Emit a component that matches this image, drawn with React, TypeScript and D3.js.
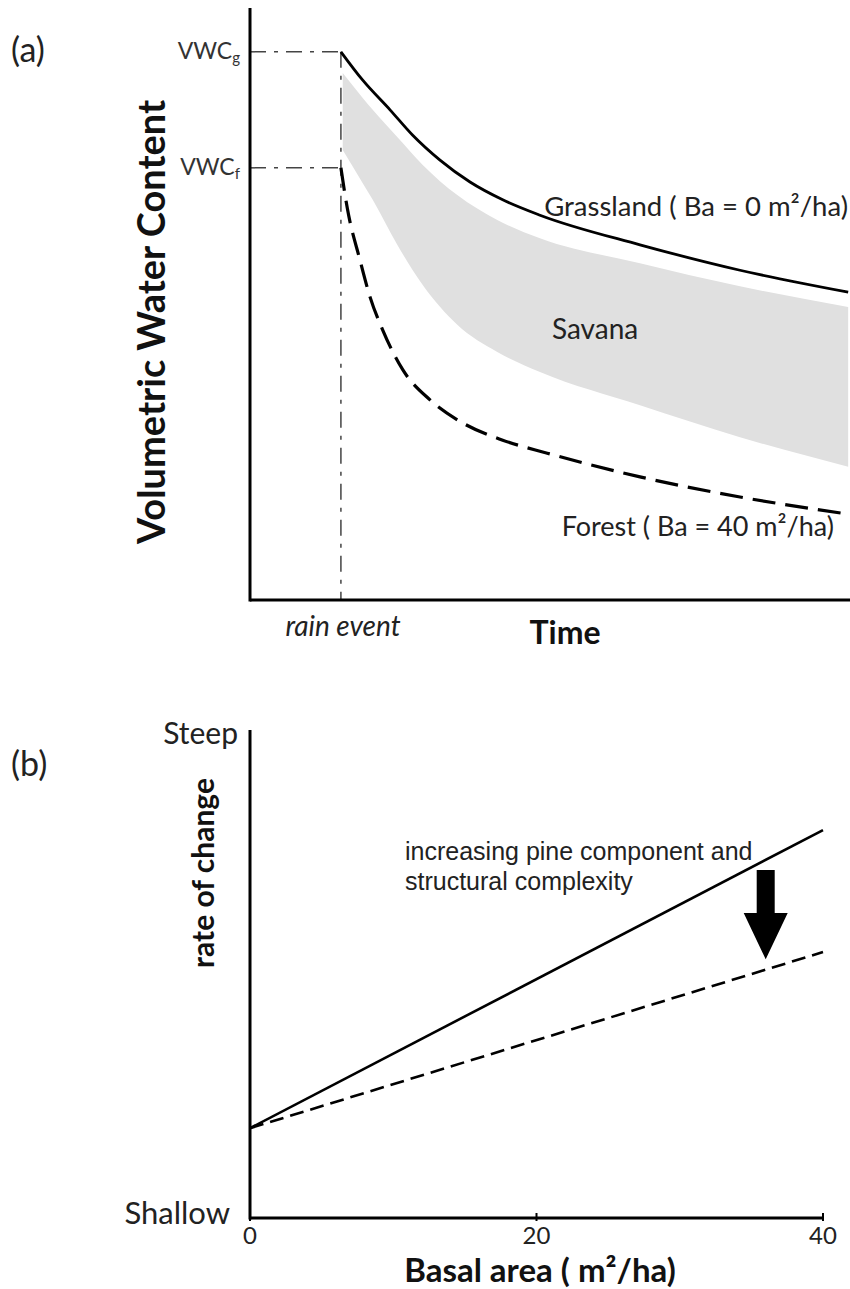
import * as d3 from 'd3';

const W = 850;
const H = 1289;

// ---- panel (a): soil moisture dry-down after a rain event ----
const rainEvent = 10;
const vwcG = 92.6;
const vwcF = 73.0;

const grassTime = [10, 12.4, 15.4, 17.9, 20.9, 24.2, 27.8, 31.9, 42.9, 53.9, 65.8];
const grassVwc = [92.6, 87.8, 82.8, 78.5, 74.3, 70.6, 67.6, 65.0, 60.0, 55.7, 52.0];

const savanaTime = [10.2, 12.4, 13.5, 16.2, 19.0, 22.8, 27.2, 31.9, 42.9, 53.9, 65.8];
const savanaUpper = [89.0, 84.8, 82.8, 78.2, 73.5, 68.4, 64.2, 61.1, 56.9, 53.0, 49.5];
const savanaLower = [76.0, 70.4, 67.6, 60.0, 53.2, 46.5, 41.9, 38.5, 32.9, 27.5, 22.5];

const forestTime = [10, 10.7, 12.1, 13.2, 14.6, 16.8, 19.8, 23.4, 27.8, 32.7, 42.9, 53.9, 65.8];
const forestVwc = [73.0, 66.2, 57.4, 51.2, 45.6, 38.9, 33.8, 29.9, 27.0, 24.8, 20.8, 17.4, 14.5];

// ---- panel (b): rate of change vs basal area ----
const basalTicks = [0, 20, 40];
const basalEnds = [0, 40];
const rateSolid = [1.84, 7.95];
const rateDashed = [1.84, 5.45];
const arrowBasal = 36;
const arrowTop = 7.13;
const arrowHead = 6.25;
const arrowTip = 5.3;

const sans = 'Lato, "Open Sans", sans-serif';
const arial = '"Liberation Sans", Arial, sans-serif';

export default function App() {
  const xA = d3.scaleLinear().domain([0, 66]).range([250, 850]);
  const yA = d3.scaleLinear().domain([0, 100]).range([600, 8]);

  const xB = d3.scaleLinear().domain([0, 40]).range([250, 823]);
  const yB = d3.scaleLinear().domain([0, 10]).range([1218, 730]);

  const line = d3
    .line<[number, number]>()
    .x((d) => xA(d[0]))
    .y((d) => yA(d[1]))
    .curve(d3.curveMonotoneX);

  const area = d3
    .area<number>()
    .x((_, i) => xA(savanaTime[i]))
    .y0((_, i) => yA(savanaLower[i]))
    .y1((_, i) => yA(savanaUpper[i]))
    .curve(d3.curveMonotoneX);

  const grassPath = line(grassTime.map((t, i) => [t, grassVwc[i]]));
  const forestPath = line(forestTime.map((t, i) => [t, forestVwc[i]]));
  const savanaPath = area(savanaTime);

  const lineB = d3
    .line<number>()
    .x((_, i) => xB(basalEnds[i]))
    .y((d) => yB(d));

  // arrow polygon
  const ax = xB(arrowBasal);
  const arrow = d3.path();
  arrow.moveTo(ax - 9, yB(arrowTop));
  arrow.lineTo(ax + 9, yB(arrowTop));
  arrow.lineTo(ax + 9, yB(arrowHead));
  arrow.lineTo(ax + 22, yB(arrowHead));
  arrow.lineTo(ax, yB(arrowTip));
  arrow.lineTo(ax - 22, yB(arrowHead));
  arrow.lineTo(ax - 9, yB(arrowHead));
  arrow.closePath();

  const dashDot = '16,8,4,8';

  return (
    <svg
      width={W}
      height={H}
      style={{ position: 'absolute', left: 0, top: 0, background: '#fff' }}
    >
      {/* ===== panel (a) ===== */}
      <text x={11} y={62} fontFamily={sans} fontSize={34} fill="#222">(a)</text>

      <path d={savanaPath ?? ''} fill="#e0e0e0" />

      {/* guide lines */}
      <line x1={xA(0)} x2={xA(rainEvent)} y1={yA(vwcG)} y2={yA(vwcG)} stroke="#444" strokeWidth={1.5} strokeDasharray={dashDot} />
      <line x1={xA(0)} x2={xA(rainEvent)} y1={yA(vwcF)} y2={yA(vwcF)} stroke="#444" strokeWidth={1.5} strokeDasharray={dashDot} />
      <line x1={xA(rainEvent)} x2={xA(rainEvent)} y1={yA(vwcG)} y2={yA(0)} stroke="#444" strokeWidth={1.5} strokeDasharray={dashDot} />

      <path d={grassPath ?? ''} fill="none" stroke="#000" strokeWidth={2.8} />
      <path d={forestPath ?? ''} fill="none" stroke="#000" strokeWidth={3.2} strokeDasharray="23,10" />

      {/* axes */}
      <line x1={xA(0)} x2={xA(0)} y1={yA(100)} y2={yA(0) + 1.5} stroke="#000" strokeWidth={3} />
      <line x1={xA(0)} x2={W} y1={yA(0)} y2={yA(0)} stroke="#000" strokeWidth={3} />

      <text x={xA(0) - 10} y={yA(vwcG) + 7} textAnchor="end" fontFamily={sans} fontSize={23} fill="#333">
        VWC<tspan fontSize={15} dy={4}>g</tspan>
      </text>
      <text x={xA(0) - 10} y={yA(vwcF) + 7} textAnchor="end" fontFamily={sans} fontSize={23} fill="#333">
        VWC<tspan fontSize={15} dy={4}>f</tspan>
      </text>

      <text
        transform={`translate(165, 322) rotate(-90)`}
        textAnchor="middle"
        fontFamily={sans}
        fontWeight="bold"
        fontSize={38}
        fill="#111"
      >
        Volumetric Water Content
      </text>

      <text x={343} y={636} textAnchor="middle" fontFamily={sans} fontStyle="italic" fontSize={28} fill="#222">
        rain event
      </text>
      <text x={565} y={644} textAnchor="middle" fontFamily={sans} fontWeight="bold" fontSize={32} fill="#111">
        Time
      </text>

      <text x={848} y={216} textAnchor="end" fontFamily={sans} fontSize={27.5} fill="#222">
        Grassland ( Ba = 0 m²/ha)
      </text>
      <text x={552} y={339} fontFamily={sans} fontSize={28} fill="#222">
        Savana
      </text>
      <text x={834} y={536} textAnchor="end" fontFamily={sans} fontSize={27} fill="#222">
        Forest ( Ba = 40 m²/ha)
      </text>

      {/* ===== panel (b) ===== */}
      <text x={11} y={776} fontFamily={sans} fontSize={34} fill="#222">(b)</text>

      <path d={lineB(rateSolid) ?? ''} fill="none" stroke="#000" strokeWidth={2.6} />
      <path d={lineB(rateDashed) ?? ''} fill="none" stroke="#000" strokeWidth={2.6} strokeDasharray="14,7" />
      <path d={arrow.toString()} fill="#000" />

      <line x1={xB(0)} x2={xB(0)} y1={yB(10)} y2={yB(0) + 1.5} stroke="#000" strokeWidth={3} />
      <line x1={xB(0)} x2={xB(40)} y1={yB(0)} y2={yB(0)} stroke="#000" strokeWidth={3} />
      {basalTicks.map((t) => (
        <g key={t}>
          <line x1={xB(t)} x2={xB(t)} y1={yB(0) - 5} y2={yB(0) + 3} stroke="#000" strokeWidth={2} />
          <text x={xB(t)} y={yB(0) + 26} textAnchor="middle" fontFamily={sans} fontSize={24} fill="#222">
            {t}
          </text>
        </g>
      ))}

      <text x={xB(0) - 12} y={yB(10) + 14} textAnchor="end" fontFamily={sans} fontSize={30} fill="#222">Steep</text>
      <text x={xB(0) - 20} y={yB(0) + 6} textAnchor="end" fontFamily={sans} fontSize={31} fill="#222">Shallow</text>

      <text
        transform={`translate(214, 873) rotate(-90)`}
        textAnchor="middle"
        fontFamily={sans}
        fontWeight="bold"
        fontSize={30}
        fill="#111"
      >
        rate of change
      </text>

      <text x={540} y={1282} textAnchor="middle" fontFamily={sans} fontWeight="bold" fontSize={33} fill="#111">
        Basal area ( m²/ha)
      </text>

      <text x={405} y={860} fontFamily={arial} fontSize={25} fill="#222">
        increasing pine component and
      </text>
      <text x={405} y={890} fontFamily={arial} fontSize={25} fill="#222">
        structural complexity
      </text>
    </svg>
  );
}
